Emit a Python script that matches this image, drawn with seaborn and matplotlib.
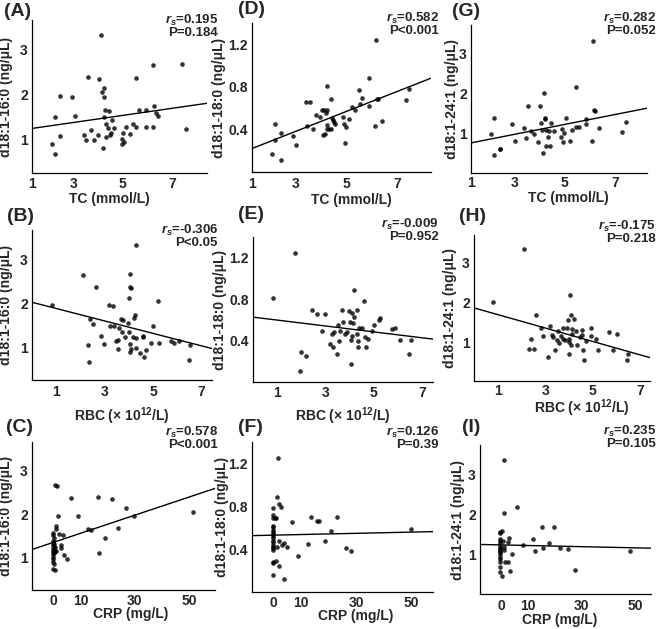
import numpy as np
import pandas as pd
import matplotlib
matplotlib.use("Agg")
import matplotlib.pyplot as plt
import seaborn as sns

# --- data (one pair of arrays per panel) ---
tc_A = [2.09, 2.22, 2.22, 2.44, 2.44, 2.93, 3.03, 3.41, 3.49, 3.59, 3.70, 3.83, 3.98, 4.04, 4.09, 4.16,
        4.19, 4.24, 4.24, 4.26, 4.24, 4.30, 4.31, 4.39, 4.45, 4.47, 4.51, 4.54, 4.64, 4.95, 4.98, 4.99,
        5.06, 5.13, 5.29, 5.40, 5.54, 5.54, 5.66, 5.93, 5.93, 6.22, 6.22, 6.26, 6.33, 6.44, 7.43, 7.56]
c16_A = [0.90, 0.68, 1.49, 1.96, 1.07, 1.93, 1.52, 1.10, 0.99, 2.39, 1.20, 0.99, 1.10, 2.34, 3.31, 2.05,
         0.81, 2.13, 1.94, 1.65, 1.50, 1.35, 1.06, 1.24, 1.63, 1.10, 1.13, 1.43, 1.24, 1.00, 0.90, 1.13,
         0.95, 1.27, 1.12, 1.34, 1.28, 2.37, 1.66, 1.66, 1.27, 2.65, 1.28, 1.74, 1.58, 1.52, 2.67, 1.23]

rbc_B = [0.82, 2.10, 2.31, 2.37, 2.41, 2.54, 2.66, 2.85, 2.96, 3.17, 3.23, 3.33, 3.37, 3.47, 3.54, 3.54,
         3.58, 3.68, 3.76, 3.74, 3.86, 3.95, 3.99, 4.02, 4.06, 4.06, 4.10, 4.03, 4.06, 4.10, 4.17, 4.20,
         4.27, 4.31, 4.31, 4.31, 4.48, 4.59, 4.59, 4.64, 4.71, 4.93, 4.99, 5.23, 5.21, 5.76, 5.88, 6.06,
         6.48, 6.54]
c16_B = [1.96, 2.66, 1.06, 0.67, 1.65, 1.53, 2.39, 1.27, 1.08, 1.97, 1.48, 1.95, 1.50, 1.14, 1.17, 0.97,
         1.44, 1.65, 1.63, 1.35, 1.24, 1.56, 1.35, 2.13, 2.67, 2.39, 2.35, 1.08, 0.89, 0.97, 1.25, 1.67,
         1.75, 1.21, 3.33, 0.98, 0.87, 1.23, 1.27, 0.79, 0.95, 1.10, 1.49, 1.11, 2.05, 1.14, 1.10, 1.14,
         0.72, 1.05]

crp_C = [-0.4, -0.3, -0.4, -0.3, -0.4, -0.3, -0.4, -0.4, -0.3, -0.4, -0.4, -0.4, -0.4, 0.0, 0.2, 0.0,
         0.1, 0.0, 0.6, 0.4, 0.7, 1.0, 0.6, 1.2, 1.5, 1.8, 0.4, 1.0, 2.7, 2.8, 3.4, 3.7, 4.9, 6.5, 9.0,
         12.7, 13.8, 16.3, 16.9, 19.0, 21.5, 23.6, 26.8, 29.7, 51.4]
c16_C = [1.56, 1.52, 1.38, 1.33, 1.28, 1.23, 1.18, 1.12, 1.08, 1.02, 0.97, 0.89, 0.74, 1.45, 1.22, 1.10,
         1.31, 0.85, 0.72, 1.15, 1.74, 1.66, 2.68, 2.65, 1.96, 1.54, 1.25, 1.14, 1.28, 1.23, 1.51, 1.06,
         0.96, 2.38, 1.95, 1.65, 1.64, 2.39, 1.10, 1.45, 2.35, 1.68, 2.14, 1.97, 2.06]

tc_D = [2.06, 2.19, 2.19, 2.39, 2.40, 2.89, 3.01, 3.38, 3.45, 3.56, 3.66, 3.79, 3.95, 4.05, 4.07, 4.13,
        4.15, 4.19, 4.22, 4.23, 4.24, 4.24, 4.31, 4.38, 4.40, 4.44, 4.48, 4.52, 4.55, 4.88, 4.89, 4.95,
        4.99, 5.09, 5.23, 5.32, 5.49, 5.52, 5.60, 5.89, 5.89, 6.15, 6.18, 6.21, 6.26, 6.39, 7.37, 7.48]
c18_D = [0.17, 0.30, 0.45, 0.37, 0.11, 0.34, 0.25, 0.66, 0.43, 0.66, 0.40, 0.54, 0.52, 0.58, 0.35, 0.58,
         0.36, 0.55, 0.81, 0.44, 0.58, 0.40, 0.40, 0.69, 0.40, 0.51, 0.49, 0.47, 0.45, 0.52, 0.45, 0.27,
         0.42, 0.50, 0.61, 0.58, 0.77, 0.64, 0.70, 0.88, 0.62, 0.43, 1.24, 0.69, 0.69, 0.48, 0.68, 0.78]

rbc_E = [0.83, 1.75, 1.97, 1.96, 2.18, 2.43, 2.63, 2.84, 2.98, 3.19, 3.26, 3.33, 3.37, 3.47, 3.53, 3.56,
         3.60, 3.70, 3.74, 3.81, 3.88, 3.99, 4.02, 4.05, 4.06, 4.09, 4.09, 4.13, 4.16, 4.19, 4.30, 4.32,
         4.34, 4.34, 4.37, 4.50, 4.60, 4.64, 4.67, 4.74, 4.93, 4.99, 5.22, 5.24, 5.74, 5.89, 6.10, 6.47,
         6.55]
c18_E = [0.81, 1.25, 0.29, 0.11, 0.25, 0.70, 0.66, 0.49, 0.66, 0.37, 0.46, 0.34, 0.48, 0.27, 0.55, 0.40,
         0.49, 0.70, 0.58, 0.46, 0.48, 0.69, 0.58, 0.41, 0.17, 0.67, 0.44, 0.57, 0.63, 0.89, 0.70, 0.46,
         0.40, 0.34, 0.52, 0.52, 0.78, 0.43, 0.34, 0.42, 0.49, 0.55, 0.60, 0.62, 0.51, 0.52, 0.41, 0.27,
         0.41]

crp_F = [-0.3, -0.4, -0.3, -0.4, -0.3, -0.4, -0.3, -0.4, -0.3, -0.4, -0.3, -0.4, -0.3, -0.4, -0.3, -0.4,
         -0.3, -0.4, -0.3, 0.5, 1.0, 0.7, 1.2, 1.6, 1.8, 1.9, 1.9, 1.3, 2.8, 3.2, 3.6, 3.8, 4.9, 6.7, 8.9,
         12.5, 13.5, 15.9, 16.4, 18.6, 21.0, 23.1, 26.3, 28.0, 50.0]
c18_F = [0.78, 0.72, 0.69, 0.62, 0.61, 0.58, 0.56, 0.54, 0.52, 0.50, 0.48, 0.47, 0.44, 0.42, 0.41, 0.39,
         0.28, 0.27, 0.16, 0.69, 0.69, 0.29, 0.89, 1.25, 0.82, 0.48, 0.24, 0.42, 0.79, 0.44, 0.46, 0.12,
         0.42, 0.65, 0.34, 0.45, 0.70, 0.66, 0.66, 0.48, 0.57, 0.70, 0.41, 0.38, 0.59]

tc_G = [2.05, 2.19, 2.19, 2.40, 2.41, 2.89, 2.99, 3.36, 3.43, 3.53, 3.65, 3.76, 3.92, 4.00, 4.03, 4.08,
        4.12, 4.17, 4.19, 4.21, 4.23, 4.25, 4.32, 4.37, 4.40, 4.45, 4.55, 4.85, 4.89, 4.91, 4.96, 5.04,
        5.19, 5.29, 5.43, 5.45, 5.55, 5.84, 5.84, 6.09, 6.11, 6.15, 6.19, 6.35, 7.29, 7.43]
c24_G = [0.98, 1.38, 0.48, 0.61, 0.63, 1.23, 0.83, 1.15, 0.90, 1.68, 1.06, 0.98, 0.80, 1.68, 1.27, 1.08,
         0.53, 2.02, 1.38, 1.36, 1.10, 0.69, 0.92, 1.07, 0.69, 1.27, 1.06, 0.92, 1.12, 0.79, 1.02, 1.38,
         0.83, 1.08, 1.17, 2.17, 1.17, 1.36, 1.23, 0.82, 3.32, 1.58, 1.56, 1.14, 1.03, 1.29]

rbc_H = [0.79, 2.10, 2.30, 2.38, 2.52, 2.59, 2.80, 2.92, 3.11, 3.20, 3.28, 3.32, 3.42, 3.51, 3.54, 3.58,
         3.65, 3.73, 3.75, 3.82, 3.89, 3.94, 3.99, 4.00, 4.01, 4.04, 4.07, 4.07, 4.10, 4.14, 4.21, 4.27,
         4.31, 4.45, 4.52, 4.55, 4.58, 4.62, 4.69, 4.92, 4.92, 5.15, 5.20, 5.69, 5.86, 6.03, 6.45, 6.49]
c24_H = [2.01, 3.33, 0.83, 1.07, 0.82, 1.69, 1.36, 1.14, 0.62, 1.39, 1.18, 1.13, 0.79, 1.04, 1.27, 0.97,
         1.14, 1.35, 1.08, 1.04, 1.35, 1.55, 1.08, 1.00, 0.69, 2.18, 1.67, 0.93, 1.21, 1.32, 1.57, 1.27,
         0.92, 1.13, 1.29, 1.17, 0.81, 0.54, 1.02, 1.36, 1.15, 1.07, 0.81, 1.25, 0.79, 1.21, 0.54, 0.69]

crp_I = [-0.5, -0.4, -0.5, -0.4, -0.5, -0.4, -0.5, -0.4, -0.5, -0.4, -0.5, -0.4, -0.5, -0.4, -0.5, -0.4,
         0.4, 0.6, 0.4, 1.0, 1.2, 1.0, 1.2, 1.6, 2.5, 2.7, 3.1, 3.5, 4.3, 6.0, 8.4, 11.8, 12.8, 15.3, 15.8,
         17.8, 19.9, 22.1, 25.1, 27.6, 48.2]
c24_I = [1.53, 1.57, 1.38, 1.33, 1.28, 1.22, 1.17, 1.13, 1.08, 1.05, 1.00, 0.94, 0.88, 0.82, 0.69, 0.55,
         1.58, 1.33, 0.46, 3.36, 2.03, 1.19, 1.11, 0.82, 0.82, 1.30, 1.40, 0.59, 1.01, 2.19, 1.23, 1.38,
         1.08, 1.69, 1.15, 1.28, 1.69, 1.17, 1.13, 0.61, 1.08]

panel_names = ["A", "B", "C", "D", "E", "F", "G", "H", "I"]
rs_vals = ["0.195", "-0.306", "0.578", "0.582", "-0.009", "0.126", "0.282", "-0.175", "0.235"]
p_vals = ["P=0.184", "P<0.05", "P<0.001", "P<0.001", "P=0.952", "P=0.39", "P=0.052", "P=0.218", "P=0.105"]
x_labels = ["TC (mmol/L)", "RBC (× 10$^{12}$/L)", "CRP (mg/L)"]
y_labels = ["d18:1-16:0 (ng/μL)", "d18:1-18:0 (ng/μL)", "d18:1-24:1 (ng/μL)"]
tc_ticks = ["1", "3", "5", "7"]
rbc_ticks = [1, 3, 5, 7]
crp_ticks = [0, 10, 30, 50]
c16_ticks = [1, 2, 3]
c18_ticks = [0.4, 0.8, 1.2]
c24_ticks = [1, 2, 3]

xs = [tc_A, rbc_B, crp_C, tc_D, rbc_E, crp_F, tc_G, rbc_H, crp_I]
ys = [c16_A, c16_B, c16_C, c18_D, c18_E, c18_F, c24_G, c24_H, c24_I]

# --- style ---
sns.set_theme(style="white")
plt.rcParams["font.family"] = ["Liberation Sans", "DejaVu Sans"]
plt.rcParams["font.weight"] = "bold"
plt.rcParams["axes.labelweight"] = "bold"
plt.rcParams["mathtext.fontset"] = "custom"
plt.rcParams["mathtext.rm"] = "Liberation Sans:bold"
plt.rcParams["mathtext.it"] = "Liberation Sans:italic:bold"
plt.rcParams["mathtext.bf"] = "Liberation Sans:bold"

W, H = 658, 629
fig = plt.figure(figsize=(W / 100, H / 100), dpi=100)
fig.patch.set_facecolor("white")

# layout in pixels: axes box (l, t, r, b), xlim, ylim, ylabel right x, xlabel (cx, top),
# tick pad, panel letter (x, y), stats right x and line y's
layout = [
    dict(box=(32, 20, 207, 173), xlim=(1.29, 8.43), ylim=(0.25, 3.65), yl=13, xl=(109, 192), pad=3,
         let=(4, 12), st=(218, 20, 33)),
    dict(box=(32, 230, 212, 380), xlim=(0, 7.44), ylim=(0.26, 3.68), yl=13, xl=(122, 405), pad=3.5,
         let=(7, 217), st=(218, 230, 243)),
    dict(box=(32, 442, 215, 590), xlim=(-8, 59.6), ylim=(0.25, 3.67), yl=13, xl=(131, 607), pad=3,
         let=(6, 427), st=(218, 432, 445)),
    dict(box=(252, 23, 431, 172), xlim=(1.26, 8.35), ylim=(0, 1.4), yl=226, xl=(351, 193), pad=3.5,
         let=(238, 10), st=(439, 18, 31)),
    dict(box=(253, 237, 433, 382), xlim=(0, 7.45), ylim=(0, 1.4), yl=227, xl=(343, 405), pad=3,
         let=(238, 215), st=(439, 224, 237)),
    dict(box=(252, 442, 433, 592), xlim=(-7.9, 58), ylim=(0, 1.4), yl=229, xl=(356, 609), pad=3,
         let=(238, 427), st=(439, 432, 445)),
    dict(box=(471, 25, 647, 173), xlim=(1.25, 8.29), ylim=(0.02, 3.71), yl=459, xl=(568, 191), pad=2.5,
         let=(452, 12), st=(656, 18, 31)),
    dict(box=(474, 235, 650, 381), xlim=(0, 7.4), ylim=(0.02, 3.69), yl=457, xl=(582, 397), pad=2.5,
         let=(459, 216), st=(656, 226, 239)),
    dict(box=(480, 445, 651, 594), xlim=(-7.8, 55.9), ylim=(0.01, 3.73), yl=465, xl=(560, 613), pad=3.5,
         let=(462, 427), st=(656, 431, 444)),
]

for i, name in enumerate(panel_names):
    col, row = divmod(i, 3)
    lay = layout[i]
    l, t, r, b = lay["box"]
    ax = fig.add_axes([l / W, 1 - b / H, (r - l) / W, (b - t) / H])
    ax.set_xlim(*lay["xlim"])
    ax.set_ylim(*lay["ylim"])

    df = pd.DataFrame({"x": xs[i], "y": ys[i]})
    sns.regplot(data=df, x="x", y="y", ax=ax, ci=None, truncate=False,
                scatter_kws=dict(s=11, color="black", linewidths=0),
                line_kws=dict(color="black", lw=1.0))
    ax.set_xlim(*lay["xlim"])
    ax.set_ylim(*lay["ylim"])

    if row == 0:
        ax.set_xticks([lay["xlim"][0], 3, 5, 7])
        ax.set_xticklabels(tc_ticks)
    elif row == 1:
        ax.set_xticks(rbc_ticks)
    else:
        ax.set_xticks(crp_ticks)
    ax.set_yticks([c16_ticks, c18_ticks, c24_ticks][col])

    ax.tick_params(axis="x", length=0, labelsize=10, pad=lay["pad"])
    ax.tick_params(axis="y", length=0, labelsize=10, pad=3)
    for lab in ax.get_xticklabels() + ax.get_yticklabels():
        lab.set_fontweight("bold")
    for s in ["top", "right"]:
        ax.spines[s].set_visible(False)
    for s in ["left", "bottom"]:
        ax.spines[s].set_color("black")
        ax.spines[s].set_linewidth(0.9)

    ax.set_xlabel(x_labels[row], fontsize=10, fontweight="bold")
    ax.set_ylabel(y_labels[col], fontsize=10, fontweight="bold")
    ax.yaxis.set_label_coords((lay["yl"] - l) / (r - l), 0.5)
    cx, top = lay["xl"]
    ax.xaxis.set_label_coords((cx - l) / (r - l), (b - top) / (b - t))

    lx, ly = lay["let"]
    fig.text(lx / W, 1 - ly / H, f"({name})", fontsize=14, fontweight="bold",
             ha="left", va="center")
    sx, sy1, sy2 = lay["st"]
    fig.text(sx / W, 1 - sy1 / H, r"$r_s$=" + rs_vals[i], fontsize=9.5, fontweight="bold",
             ha="right", va="center")
    fig.text(sx / W, 1 - sy2 / H, p_vals[i], fontsize=9.5, fontweight="bold",
             ha="right", va="center")

fig.savefig("out.png", dpi=100, facecolor="white")
